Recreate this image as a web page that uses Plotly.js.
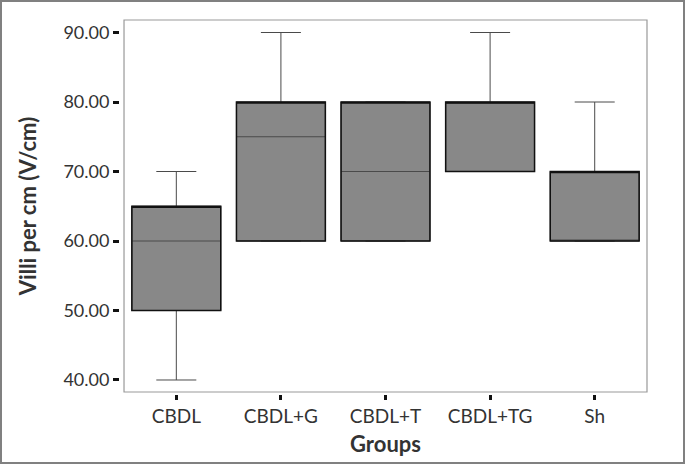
<!DOCTYPE html>
<html>
<head>
<meta charset="utf-8">
<script src="https://cdn.plot.ly/plotly-3.0.1.min.js"></script>
<style>
  html, body { margin: 0; padding: 0; background: #fff; }
  #wrap { position: relative; width: 685px; height: 464px; }
  #chart { position: absolute; left: 0; top: 0; width: 685px; height: 464px; }
  #border { position: absolute; left: 0; top: 0; width: 685px; height: 464px; box-sizing: border-box; border: 2px solid #808080; pointer-events: none; }
</style>
</head>
<body>
<div id="wrap"><div id="chart"></div><div id="border"></div></div>
<script>
const categories = ['CBDL', 'CBDL+G', 'CBDL+T', 'CBDL+TG', 'Sh'];
const lowerWhisker = [40, 60, 60, 70, 60];
const q1Values = [50, 60, 60, 70, 60];
const medianValues = [60, 75, 70, 80, 60];
const q3Values = [65, 80, 80, 80, 70];
const upperWhisker = [70, 90, 80, 90, 80];
const yTickVals = [40, 50, 60, 70, 80, 90];

const font = 'Lato, "Open Sans", sans-serif';

const whiskerTrace = {
  type: 'box',
  x: categories,
  q1: q1Values,
  median: medianValues,
  q3: q3Values,
  lowerfence: lowerWhisker,
  upperfence: upperWhisker,
  width: 0.85,
  fillcolor: '#888888',
  line: { color: '#4a4a4a', width: 1 },
  whiskerwidth: 0.45,
  boxpoints: false,
  hoverinfo: 'skip',
  showlegend: false
};

const outlineTrace = {
  type: 'box',
  x: categories,
  q1: q1Values,
  median: q3Values,
  q3: q3Values,
  lowerfence: q1Values,
  upperfence: q3Values,
  width: 0.85,
  fillcolor: 'rgba(0,0,0,0)',
  line: { color: '#111111', width: 1.5 },
  whiskerwidth: 0,
  boxpoints: false,
  hoverinfo: 'skip',
  showlegend: false
};

const layout = {
  width: 685,
  height: 464,
  margin: { l: 119, r: 38, t: 20, b: 70 },
  paper_bgcolor: '#ffffff',
  plot_bgcolor: '#ffffff',
  boxmode: 'overlay',
  font: { family: font, color: '#333333', size: 18 },
  xaxis: {
    type: 'category',
    domain: [0.0095, 1],
    anchor: 'free',
    position: 0,
    range: [-0.5, 4.5],
    showgrid: false,
    zeroline: false,
    showline: false,
    ticks: 'outside',
    ticklen: 5,
    tickwidth: 3,
    tickcolor: '#111111',
    tickfont: { family: font, size: 19, color: '#333333' },
    title: { text: '<b>Groups</b>', font: { family: font, size: 22, color: '#333333' }, standoff: 10 }
  },
  yaxis: {
    domain: [0.0053, 1],
    anchor: 'free',
    position: 0,
    range: [38.27, 91.8],
    tickvals: yTickVals,
    tickformat: '.2f',
    showgrid: false,
    zeroline: false,
    showline: false,
    ticks: 'outside',
    ticklen: 6,
    tickwidth: 3,
    tickcolor: '#111111',
    tickfont: { family: font, size: 18, color: '#333333' },
    title: { text: '<b>Villi per cm (V/cm)</b>', font: { family: font, size: 22, color: '#333333' }, standoff: 19 }
  },
  shapes: [{
    type: 'rect', xref: 'x domain', yref: 'y domain',
    x0: 0, x1: 1, y0: 0, y1: 1,
    line: { color: '#999999', width: 1.2 },
    fillcolor: 'rgba(0,0,0,0)',
    layer: 'above'
  }]
};

Plotly.newPlot('chart', [whiskerTrace, outlineTrace], layout, { displayModeBar: false, staticPlot: true });
</script>
</body>
</html>
